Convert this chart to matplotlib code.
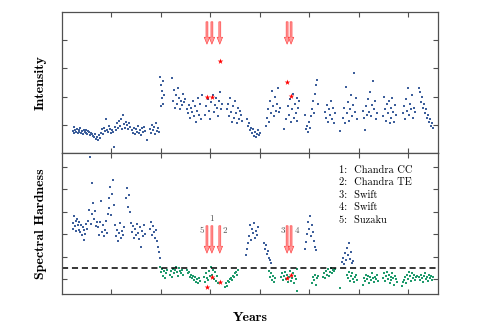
import matplotlib
matplotlib.use('Agg')
import matplotlib.pyplot as plt
import numpy as np

# intensity (top panel), time in years from start of monitoring
intensity_t = [
    0.22, 0.24, 0.25, 0.27, 0.29, 0.30, 0.32, 0.34, 0.35, 0.37, 0.39, 0.41, 0.42, 0.44, 0.46, 0.48, 0.49, 0.51, 0.53, 0.55, 0.57, 0.59, 0.61,
    0.63, 0.65, 0.67, 0.69, 0.71, 0.73, 0.75, 0.77,
    0.79, 0.81, 0.83, 0.85, 0.87, 0.89, 0.91, 0.93, 0.95, 0.97, 0.99, 1.01, 1.03, 1.05,
    1.07, 1.09, 1.11, 1.13, 1.15, 1.17, 1.19, 1.21, 1.23, 1.25, 1.27, 1.29, 1.31, 1.33, 1.35, 1.37,
    1.41, 1.43, 1.45, 1.47, 1.49, 1.51, 1.53, 1.55, 1.57, 1.59, 1.61, 1.63, 1.65, 1.67, 1.72,
    1.78, 1.80, 1.82, 1.84, 1.86, 1.88, 1.90, 1.92, 1.94, 1.96,
    1.99, 2.00, 2.01, 2.02, 2.03, 2.04, 2.05, 2.06,
    2.23, 2.25, 2.27, 2.29, 2.31, 2.33, 2.35, 2.37, 2.39, 2.41, 2.43, 2.45, 2.47, 2.49,
    2.53, 2.55, 2.57, 2.59, 2.61, 2.63, 2.65, 2.67, 2.69, 2.71, 2.73, 2.75, 2.77, 2.79, 2.81, 2.83,
    2.89, 2.91, 2.95, 2.98, 3.00, 3.02, 3.05, 3.07, 3.09, 3.11, 3.13, 3.15, 3.17, 3.19, 3.21, 3.23,
    3.33, 3.35, 3.37, 3.39, 3.41, 3.43, 3.45, 3.47, 3.49, 3.51, 3.53, 3.55, 3.57, 3.59, 3.61, 3.63,
    3.74, 3.76, 3.78, 3.80, 3.82, 3.84, 3.86, 3.88, 3.90, 3.92, 3.94, 3.96, 3.98, 4.00,
    4.12, 4.14, 4.16, 4.18, 4.20, 4.22, 4.24, 4.26, 4.28, 4.30, 4.32, 4.34, 4.36, 4.38, 4.40,
    4.48, 4.52, 4.56, 4.58, 4.60, 4.62, 4.64, 4.66, 4.68, 4.70, 4.72, 4.74, 4.76, 4.78, 4.80,
    4.91, 4.93, 4.95, 4.97, 4.99, 5.01, 5.03, 5.05, 5.07, 5.09, 5.11, 5.13, 5.15, 5.17,
    5.31, 5.33, 5.35, 5.37, 5.39, 5.41, 5.43, 5.45, 5.47, 5.49, 5.51, 5.62,
    5.68, 5.70, 5.72, 5.74, 5.76, 5.78, 5.80, 5.82, 5.84, 5.86, 5.88, 5.90, 5.92, 5.94, 5.96,
    6.08, 6.10, 6.12, 6.14, 6.16, 6.18, 6.20, 6.22, 6.24, 6.26, 6.28, 6.30, 6.32, 6.34, 6.36,
    6.48, 6.50, 6.52, 6.54, 6.56, 6.58, 6.60, 6.62, 6.64, 6.66, 6.68, 6.70, 6.72, 6.74, 6.76,
    6.89, 6.91, 6.93, 6.95, 6.97, 6.99, 7.01, 7.03, 7.05, 7.07, 7.09, 7.11, 7.13,
    7.21, 7.23, 7.25, 7.27, 7.29, 7.31, 7.33, 7.35, 7.37, 7.39, 7.41, 7.43, 7.45, 7.47, 7.49,
]
intensity_v = [
    0.78, 0.92, 0.70, 0.82, 0.74, 0.86, 0.69, 0.80, 0.76, 0.88, 0.72, 0.79, 0.66, 0.83, 0.75, 0.71, 0.80, 0.68, 0.77, 0.73, 0.64, 0.70, 0.66,
    0.60, 0.55, 0.68, 0.50, 0.58, 0.47, 0.62, 0.52,
    0.72, 0.84, 0.66, 0.90, 0.78, 1.22, 0.80, 0.74, 0.95, 0.86, 0.70, 0.82, 0.76, 0.22,
    0.92, 0.80, 1.05, 0.88, 1.15, 0.96, 1.20, 0.85, 1.35, 1.02, 0.90, 1.10, 0.98, 0.84, 1.06, 0.93,
    0.80, 0.72, 0.90, 0.66, 0.84, 0.76, 0.95, 0.70, 0.82, 0.64, 0.88, 0.74, 0.92, 0.78, 0.45,
    0.85, 0.72, 0.98, 0.80, 0.92, 0.68, 1.05, 0.78, 0.88, 0.75,
    2.70, 1.65, 2.40, 1.95, 2.20, 1.75, 2.55, 2.05,
    2.65, 1.85, 2.25, 1.60, 2.05, 1.75, 2.30, 1.95, 1.55, 1.85, 1.70, 2.10, 1.80, 1.90,
    1.55, 1.40, 1.70, 1.25, 1.60, 1.45, 1.85, 1.30, 1.65, 1.10, 1.50, 1.95, 1.35, 1.75, 1.20, 2.05,
    1.35, 1.65, 1.90, 1.50, 1.20, 1.80, 2.05, 1.45, 1.70, 1.95, 1.60, 1.30, 1.85, 2.15, 1.55, 1.75,
    1.55, 1.75, 1.30, 1.95, 1.45, 1.10, 1.65, 1.25, 1.85, 1.40, 1.05, 1.60, 1.20, 1.50, 1.35, 1.15,
    1.20, 0.95, 1.05, 0.80, 0.90, 0.70, 0.85, 0.60, 0.75, 0.55, 0.68, 0.82, 0.62, 0.72,
    0.95, 1.25, 1.55, 1.10, 1.85, 1.40, 2.20, 1.65, 1.30, 2.00, 1.50, 1.75, 2.30, 1.45, 1.60,
    0.85, 1.20, 1.65, 1.35, 1.90, 1.10, 1.55, 2.10, 1.25, 1.75, 1.40, 1.95, 1.15, 1.60, 1.85,
    1.35, 0.85, 0.95, 0.75, 1.10, 0.90, 1.30, 1.55, 1.85, 1.40, 2.10, 2.40, 2.60, 1.75,
    1.45, 1.25, 1.70, 1.10, 1.55, 1.35, 1.85, 1.20, 1.60, 1.05, 1.40, 0.78,
    1.25, 1.60, 1.05, 2.35, 1.40, 1.80, 1.15, 1.55, 2.05, 1.30, 1.70, 2.85, 1.45, 1.95, 1.20,
    1.50, 1.25, 0.80, 1.65, 1.35, 1.90, 1.45, 2.15, 1.30, 1.70, 2.55, 1.55, 1.85, 1.20, 1.40,
    1.30, 2.00, 1.55, 1.15, 1.75, 1.40, 1.85, 1.05, 1.60, 1.25, 1.95, 1.45, 1.10, 1.70, 1.35,
    1.40, 1.65, 1.20, 1.90, 1.50, 2.30, 1.35, 1.75, 1.55, 2.05, 1.25, 1.60, 1.45,
    2.30, 2.15, 1.80, 2.00, 1.60, 1.75, 1.40, 1.55, 1.25, 1.35, 1.10, 1.20, 0.95, 1.05, 0.90,
]

# spectral hardness, hard state (blue)
hard_t = [
    0.22, 0.23, 0.25, 0.26, 0.28, 0.29, 0.31, 0.32, 0.34, 0.35,
    0.37, 0.39, 0.40, 0.42, 0.44, 0.45, 0.47, 0.49, 0.51,
    0.53, 0.55, 0.57, 0.58, 0.60, 0.61, 0.63, 0.65, 0.67, 0.69, 0.71,
    0.72, 0.74, 0.76, 0.78, 0.80, 0.82, 0.84, 0.86, 0.88, 0.90,
    0.92, 0.94, 0.96, 0.98, 1.00, 1.02, 1.04, 1.06,
    1.08, 1.10, 1.12, 1.14, 1.16, 1.18, 1.20, 1.22, 1.24, 1.26,
    1.30, 1.32, 1.33, 1.35, 1.37,
    1.40, 1.42, 1.44, 1.46, 1.48, 1.50, 1.52, 1.54, 1.56, 1.58, 1.60, 1.62, 1.64, 1.66, 1.68,
    1.78, 1.80, 1.82, 1.84, 1.86, 1.88, 1.90, 1.92, 1.94, 1.96, 1.98,
    3.72, 3.74, 3.76, 3.78, 3.80, 3.82, 3.84, 3.86, 3.88, 3.90, 3.92, 3.94, 3.96,
    4.08, 4.10, 4.12, 4.14, 4.16, 4.18, 4.20, 4.22,
    4.91, 4.93, 4.95, 4.97, 4.99, 5.01, 5.03, 5.05, 5.07, 5.09, 5.11, 5.13,
    5.66, 5.68, 5.70, 5.72, 5.74, 5.76, 5.78, 5.80, 5.82, 5.84, 5.86, 5.88,
]
hard_v = [
    2.50, 2.25, 2.80, 2.35, 2.60, 2.15, 2.70, 2.40, 2.55, 2.20,
    2.10, 2.40, 1.95, 2.30, 1.75, 2.20, 2.00, 2.45, 2.25,
    2.60, 3.10, 5.45, 2.45, 4.30, 2.90, 3.40, 2.70, 3.05, 2.35, 2.55,
    2.30, 1.95, 2.55, 3.50, 2.10, 2.40, 1.90, 2.20, 2.60, 2.05,
    2.90, 3.60, 3.15, 4.10, 2.85, 3.80, 4.40, 3.30,
    2.40, 1.90, 2.20, 1.70, 2.05, 2.50, 1.85, 2.15, 1.95, 2.30,
    3.60, 4.05, 3.20, 3.75, 3.00,
    2.50, 2.10, 2.35, 1.85, 2.25, 1.95, 2.45, 2.05, 1.80, 2.30, 1.45, 2.15, 1.90, 2.40, 2.00,
    2.25, 2.55, 1.95, 2.35, 2.10, 1.85, 2.20, 1.70, 1.45, 1.20, 0.95,
    1.05, 1.35, 1.60, 1.90, 2.40, 1.75, 2.25, 2.05, 2.50, 1.85, 2.15, 1.95, 2.30,
    1.60, 1.35, 1.50, 1.10, 1.25, 0.95, 0.85, 0.70,
    1.35, 1.65, 2.00, 2.55, 2.25, 2.80, 1.90, 2.40, 2.10, 1.70, 1.45, 1.30,
    0.75, 0.95, 0.65, 1.15, 0.85, 1.40, 1.05, 1.60, 0.90, 1.20, 0.70, 0.80,
]

# spectral hardness, soft state (green)
soft_t = [
    1.98, 2.00, 2.02, 2.04, 2.06, 2.08, 2.10, 2.12,
    2.18, 2.20, 2.22, 2.24, 2.26, 2.28, 2.30, 2.32, 2.34, 2.36, 2.38, 2.40, 2.42, 2.44,
    2.53, 2.55, 2.57, 2.59, 2.61, 2.63, 2.65, 2.67, 2.69, 2.71, 2.73, 2.75, 2.77, 2.79,
    2.88, 2.90, 2.92, 2.94, 2.96, 2.98, 3.00, 3.02, 3.04, 3.06, 3.08, 3.10, 3.12, 3.14, 3.16,
    3.30, 3.32, 3.34, 3.36, 3.38, 3.40, 3.42, 3.44, 3.46, 3.48, 3.50, 3.52, 3.54, 3.56,
    4.18, 4.20, 4.22, 4.24, 4.26, 4.28, 4.30,
    4.42, 4.44, 4.46, 4.48, 4.50, 4.52, 4.54, 4.56, 4.58, 4.60, 4.62, 4.64, 4.66, 4.68, 4.70, 4.72, 4.74, 4.76,
    5.05, 5.07, 5.09, 5.11, 5.13, 5.15, 5.17,
    5.27, 5.29, 5.31, 5.33, 5.35, 5.37, 5.39, 5.41, 5.43, 5.45, 5.47, 5.49, 5.51, 5.62,
    5.76, 5.78, 5.80, 5.82, 5.84, 5.86, 5.88, 5.90, 5.92, 5.94, 5.96,
    6.08, 6.10, 6.12, 6.14, 6.16, 6.18, 6.20, 6.22, 6.24, 6.26, 6.28, 6.30, 6.32, 6.34, 6.36, 6.38,
    6.48, 6.50, 6.52, 6.54, 6.56, 6.58, 6.60, 6.62, 6.64, 6.66, 6.68, 6.70, 6.72, 6.74, 6.76, 6.78,
    6.87, 6.89, 6.91, 6.93, 6.95, 6.97, 6.99, 7.01, 7.03, 7.05, 7.07, 7.09, 7.11, 7.13, 7.15, 7.17,
    7.21, 7.23, 7.25, 7.27, 7.29, 7.31, 7.33, 7.35, 7.37, 7.39, 7.41, 7.43, 7.45, 7.47, 7.49,
]
soft_v = [
    0.55, 0.30, 0.45, 0.15, 0.35, 0.05, 0.25, 0.40,
    0.20, 0.35, 0.10, 0.45, 0.25, 0.40, 0.55, 0.30, 0.15, 0.50, 0.35, 0.25, 0.40, 0.20,
    0.40, 0.25, 0.30, 0.10, 0.20, 0.05, 0.15, -0.05, 0.10, -0.15, 0.00, -0.20, 0.05, -0.10,
    0.10, -0.15, 0.25, 0.05, -0.05, 0.35, 0.15, 0.55, 0.20, 0.40, 0.00, 0.30, -0.10, 0.15, -0.20,
    -0.35, -0.20, -0.30, -0.10, -0.15, 0.00, 0.05, -0.05, 0.15, 0.10, 0.25, 0.30, 0.20, 0.40,
    0.35, 0.10, 0.25, -0.05, 0.15, -0.15, 0.05,
    0.10, 0.25, -0.05, 0.15, 0.30, 0.00, 0.20, -0.15, 0.10, 0.35, -0.10, 0.05, 0.25, -0.20, 0.15, 0.00, 0.45, -0.55,
    -0.20, 0.10, -0.05, 0.20, -0.25, 0.05, 0.15,
    0.10, 0.25, 0.05, 0.35, 0.20, 0.45, 0.15, 0.30, 0.50, 0.25, 0.40, 0.35, 0.45, -0.40,
    0.20, 0.05, 0.30, -0.10, 0.15, 0.25, 0.00, -0.15, 0.10, 0.20, -0.05,
    -0.25, 0.05, -0.10, 0.20, 0.00, 0.15, -0.20, 0.10, -0.05, 0.25, 0.05, -0.15, 0.10, 0.00, 0.20, -0.10,
    0.05, 0.25, -0.10, 0.15, 0.30, 0.00, 0.20, -0.20, 0.10, -0.05, 0.25, 0.05, -0.25, 0.15, 0.00, -0.15,
    -0.30, -0.15, -0.05, 0.10, -0.20, 0.20, 0.00, 0.30, 0.15, -0.10, 0.25, 0.05, 0.20, -0.05, 0.10, 0.15,
    0.10, -0.05, 0.20, 0.05, -0.15, 0.15, 0.25, 0.00, 0.10, -0.10, 0.20, 0.05, 0.15, -0.05, 0.10,
]

# pointed observations: 1 Chandra CC, 2 Chandra TE, 3 Swift, 4 Swift, 5 Suzaku
obs_labels = ['1', '2', '3', '4', '5']
obs_names = ['Chandra CC', 'Chandra TE', 'Swift', 'Swift', 'Suzaku']
obs_t = [3.03, 3.19, 4.55, 4.63, 2.93]
obs_intensity = [2.00, 3.27, 2.53, 2.02, 2.00]
obs_hardness = [0.10, -0.13, 0.05, 0.17, -0.36]

hardness_threshold = 0.5

blue = '#3d5f9b'
green = '#1f9a6c'
frame = '#505050'

fig = plt.figure(figsize=(5.0, 3.24), dpi=100)
ax1 = fig.add_axes([0.124, 0.528, 0.752, 0.435])
ax2 = fig.add_axes([0.124, 0.0926, 0.752, 0.4354])

ax1.scatter(intensity_t, intensity_v, s=0.8, marker='s', color=blue, linewidths=0)
ax1.scatter(obs_t, obs_intensity, s=18, marker='*', color='red', linewidths=0, zorder=4)

ax2.scatter(hard_t, hard_v, s=0.8, marker='s', color=blue, linewidths=0)
ax2.scatter(soft_t, soft_v, s=0.8, marker='s', color=green, linewidths=0)
ax2.scatter(obs_t, obs_hardness, s=18, marker='*', color='red', linewidths=0, zorder=4)
ax2.axhline(hardness_threshold, color='black', lw=1.1, dashes=(4, 2.5))

arrow_props = dict(arrowstyle='simple,head_width=0.4,head_length=0.5,tail_width=0.14',
                   fc='#ff9a9a', ec='#ff3030', lw=0.4, mutation_scale=10)
for t in obs_t:
    ax1.annotate('', xy=(t, 3.76), xytext=(t, 4.75), arrowprops=arrow_props)
    ax2.annotate('', xy=(t, 1.03), xytext=(t, 2.50), arrowprops=arrow_props)

# arrow numbers in lower panel
label_pos = {'5': (2.83, 2.14), '1': (3.03, 2.68), '2': (3.29, 2.14),
             '3': (4.46, 2.14), '4': (4.75, 2.14)}
for lab in obs_labels:
    x, y = label_pos[lab]
    ax2.text(x, y, lab, fontsize=6.5, family='cmr10', color='#555555',
             ha='center', va='center')

for i, (lab, name) in enumerate(zip(obs_labels, obs_names)):
    ax2.text(0.738, 0.88 - i * 0.089, lab + ':  ' + name, transform=ax2.transAxes,
             fontsize=7.5, family='cmr10', va='center', ha='left')

ax1.set_xlim(0, 7.6)
ax2.set_xlim(0, 7.6)
ax1.set_ylim(0, 5)
ax2.set_ylim(-0.67, 5.63)
ax1.set_xticks(range(1, 8))
ax2.set_xticks(range(1, 8))
ax1.set_yticks([1, 2, 3, 4])
ax2.set_yticks([0, 1, 2, 3, 4, 5])

for ax in (ax1, ax2):
    ax.tick_params(direction='in', length=3.5, width=0.8, color=frame,
                   top=True, right=True, labelbottom=False, labelleft=False)
    for sp in ax.spines.values():
        sp.set_color(frame)
        sp.set_linewidth(0.9)

ax1.set_ylabel('Intensity', family='cmb10', fontsize=10, labelpad=11)
ax2.set_ylabel('Spectral Hardness', family='cmb10', fontsize=10, labelpad=11)
ax2.set_xlabel('Years', family='cmb10', fontsize=10, labelpad=13)

plt.savefig('out.png', dpi=100)
